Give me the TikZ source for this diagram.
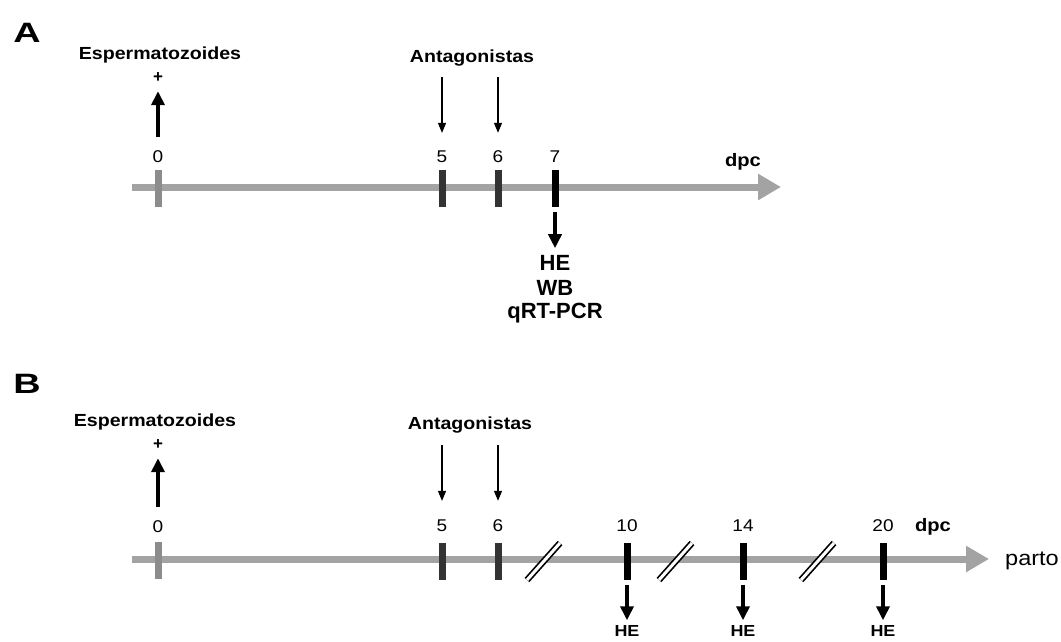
\documentclass[tikz,border=0pt]{standalone}
\usepackage{fontspec}
\setmainfont{Liberation Sans}
\newfontfamily\widefont[FakeStretch=1.12]{Liberation Sans}
\newfontfamily\panelfont[FakeStretch=1.35]{Liberation Sans}
\usepackage{tikz}
\usetikzlibrary{arrows.meta}

\definecolor{axisgray}{HTML}{A3A3A3}
\definecolor{zerogray}{HTML}{8C8C8C}
\definecolor{darktick}{HTML}{333333}

\tikzset{
  axisline/.style={line width=7pt, axisgray, -{Triangle[length=23pt,width=25pt]}},
  tickmark/.style={inner sep=0pt, minimum width=7pt, minimum height=37pt},
  daylabel/.style={font=\widefont\fontsize{17}{17}\selectfont, inner sep=0pt},
  eventlabel/.style={font=\widefont\bfseries\fontsize{17.5}{18}\selectfont, inner sep=0pt},
  pluslabel/.style={font=\bfseries\fontsize{17}{17}\selectfont, inner sep=0pt},
  panellabel/.style={font=\panelfont\bfseries\fontsize{28}{28}\selectfont, inner sep=0pt},
  assaylabel/.style={font=\bfseries\fontsize{22}{22}\selectfont, inner sep=0pt},
  smallassay/.style={font=\widefont\bfseries\fontsize{16}{16}\selectfont, inner sep=0pt},
  unitlabel/.style={font=\widefont\bfseries\fontsize{18}{18}\selectfont, inner sep=0pt},
  bigarrow/.style={line width=4.5pt, -{Triangle[length=14pt,width=13pt]}},
  thinarrow/.style={line width=1.3pt, -{Triangle[length=10pt,width=8pt]}},
  cutmark/.style={line width=1.7pt, double=white, double distance=3pt}
}

\begin{document}
\begin{tikzpicture}[x=1pt, y=-1pt]
  \useasboundingbox (0,0) rectangle (1061,641);

  % panel A
  \node[panellabel] (labA) at (27,33) {A};
  \node[eventlabel] (espA) at (160,55) {Espermatozoides};
  \node[pluslabel] (plusA) at (158,78) {+};
  \node[eventlabel] (antA) at (472,58) {Antagonistas};
  \coordinate (startA) at (132,187);
  \coordinate (endA) at (781,187);
  \draw[axisline] (startA) -- (endA);
  \node[tickmark, fill=zerogray] (tA0) at (158,188) {};
  \node[tickmark, fill=darktick] (tA5) at (442,188) {};
  \node[tickmark, fill=darktick] (tA6) at (498,188) {};
  \node[tickmark, fill=black] (tA7) at (555,188) {};
  \node[daylabel] (dA0) at (158,157) {0};
  \node[daylabel] (dA5) at (442,157) {5};
  \node[daylabel] (dA6) at (498,157) {6};
  \node[daylabel] (dA7) at (555,157) {7};
  \node[unitlabel] (dpcA) at (743,162) {dpc};
  \node[assaylabel] (heA) at (555,263) {HE};
  \node[assaylabel] (wbA) at (555,288) {WB};
  \node[assaylabel] (pcrA) at (555,313) {qRT-PCR};
  \draw[bigarrow, shorten <=14pt, shorten >=8pt] (dA0.north) -- (plusA.south);
  \coordinate (inA5) at (442,77);
  \coordinate (inA6) at (498,77);
  \draw[thinarrow, shorten >=18pt] (inA5) -- (dA5.north);
  \draw[thinarrow, shorten >=18pt] (inA6) -- (dA6.north);
  \draw[bigarrow, shorten <=5pt, shorten >=7pt] (tA7.south) -- (heA.north);

  % panel B
  \node[panellabel] (labB) at (27,384) {B};
  \node[eventlabel] (espB) at (155,422) {Espermatozoides};
  \node[pluslabel] (plusB) at (158,445) {+};
  \node[eventlabel] (antB) at (470,425) {Antagonistas};
  \coordinate (startB) at (132,559);
  \coordinate (endB) at (989,559);
  \draw[axisline] (startB) -- (endB);
  \node[tickmark, fill=zerogray] (tB0) at (158,560) {};
  \node[tickmark, fill=darktick] (tB5) at (442,561) {};
  \node[tickmark, fill=darktick] (tB6) at (498,561) {};
  \node[tickmark, fill=black] (tB10) at (627,561) {};
  \node[tickmark, fill=black] (tB14) at (743,561) {};
  \node[tickmark, fill=black] (tB20) at (883,561) {};
  \node[daylabel] (dB0) at (158,527) {0};
  \node[daylabel] (dB5) at (442,526) {5};
  \node[daylabel] (dB6) at (498,526) {6};
  \node[daylabel] (dB10) at (627,526) {10};
  \node[daylabel] (dB14) at (743,526) {14};
  \node[daylabel] (dB20) at (883,526) {20};
  \node[unitlabel] (dpcB) at (933,527) {dpc};
  \node[daylabel, font=\widefont\fontsize{21}{21}\selectfont] (parto) at (1032,561) {parto};
  \node[smallassay] (heB10) at (627,631) {HE};
  \node[smallassay] (heB14) at (743,631) {HE};
  \node[smallassay] (heB20) at (883,631) {HE};
  \draw[bigarrow, shorten <=14pt, shorten >=8pt] (dB0.north) -- (plusB.south);
  \coordinate (inB5) at (442,445);
  \coordinate (inB6) at (498,445);
  \draw[thinarrow, shorten >=19pt] (inB5) -- (dB5.north);
  \draw[thinarrow, shorten >=19pt] (inB6) -- (dB6.north);
  \draw[bigarrow, shorten <=5pt, shorten >=5pt] (tB10.south) -- (heB10.north);
  \draw[bigarrow, shorten <=5pt, shorten >=5pt] (tB14.south) -- (heB14.north);
  \draw[bigarrow, shorten <=5pt, shorten >=5pt] (tB20.south) -- (heB20.north);
  % breaks in the time axis
  \coordinate (cut1a) at (527,580); \coordinate (cut1b) at (560,543);
  \coordinate (cut2a) at (659,580); \coordinate (cut2b) at (692,543);
  \coordinate (cut3a) at (801,580); \coordinate (cut3b) at (834,543);
  \draw[cutmark] (cut1a) -- (cut1b);
  \draw[cutmark] (cut2a) -- (cut2b);
  \draw[cutmark] (cut3a) -- (cut3b);
\end{tikzpicture}
\end{document}
